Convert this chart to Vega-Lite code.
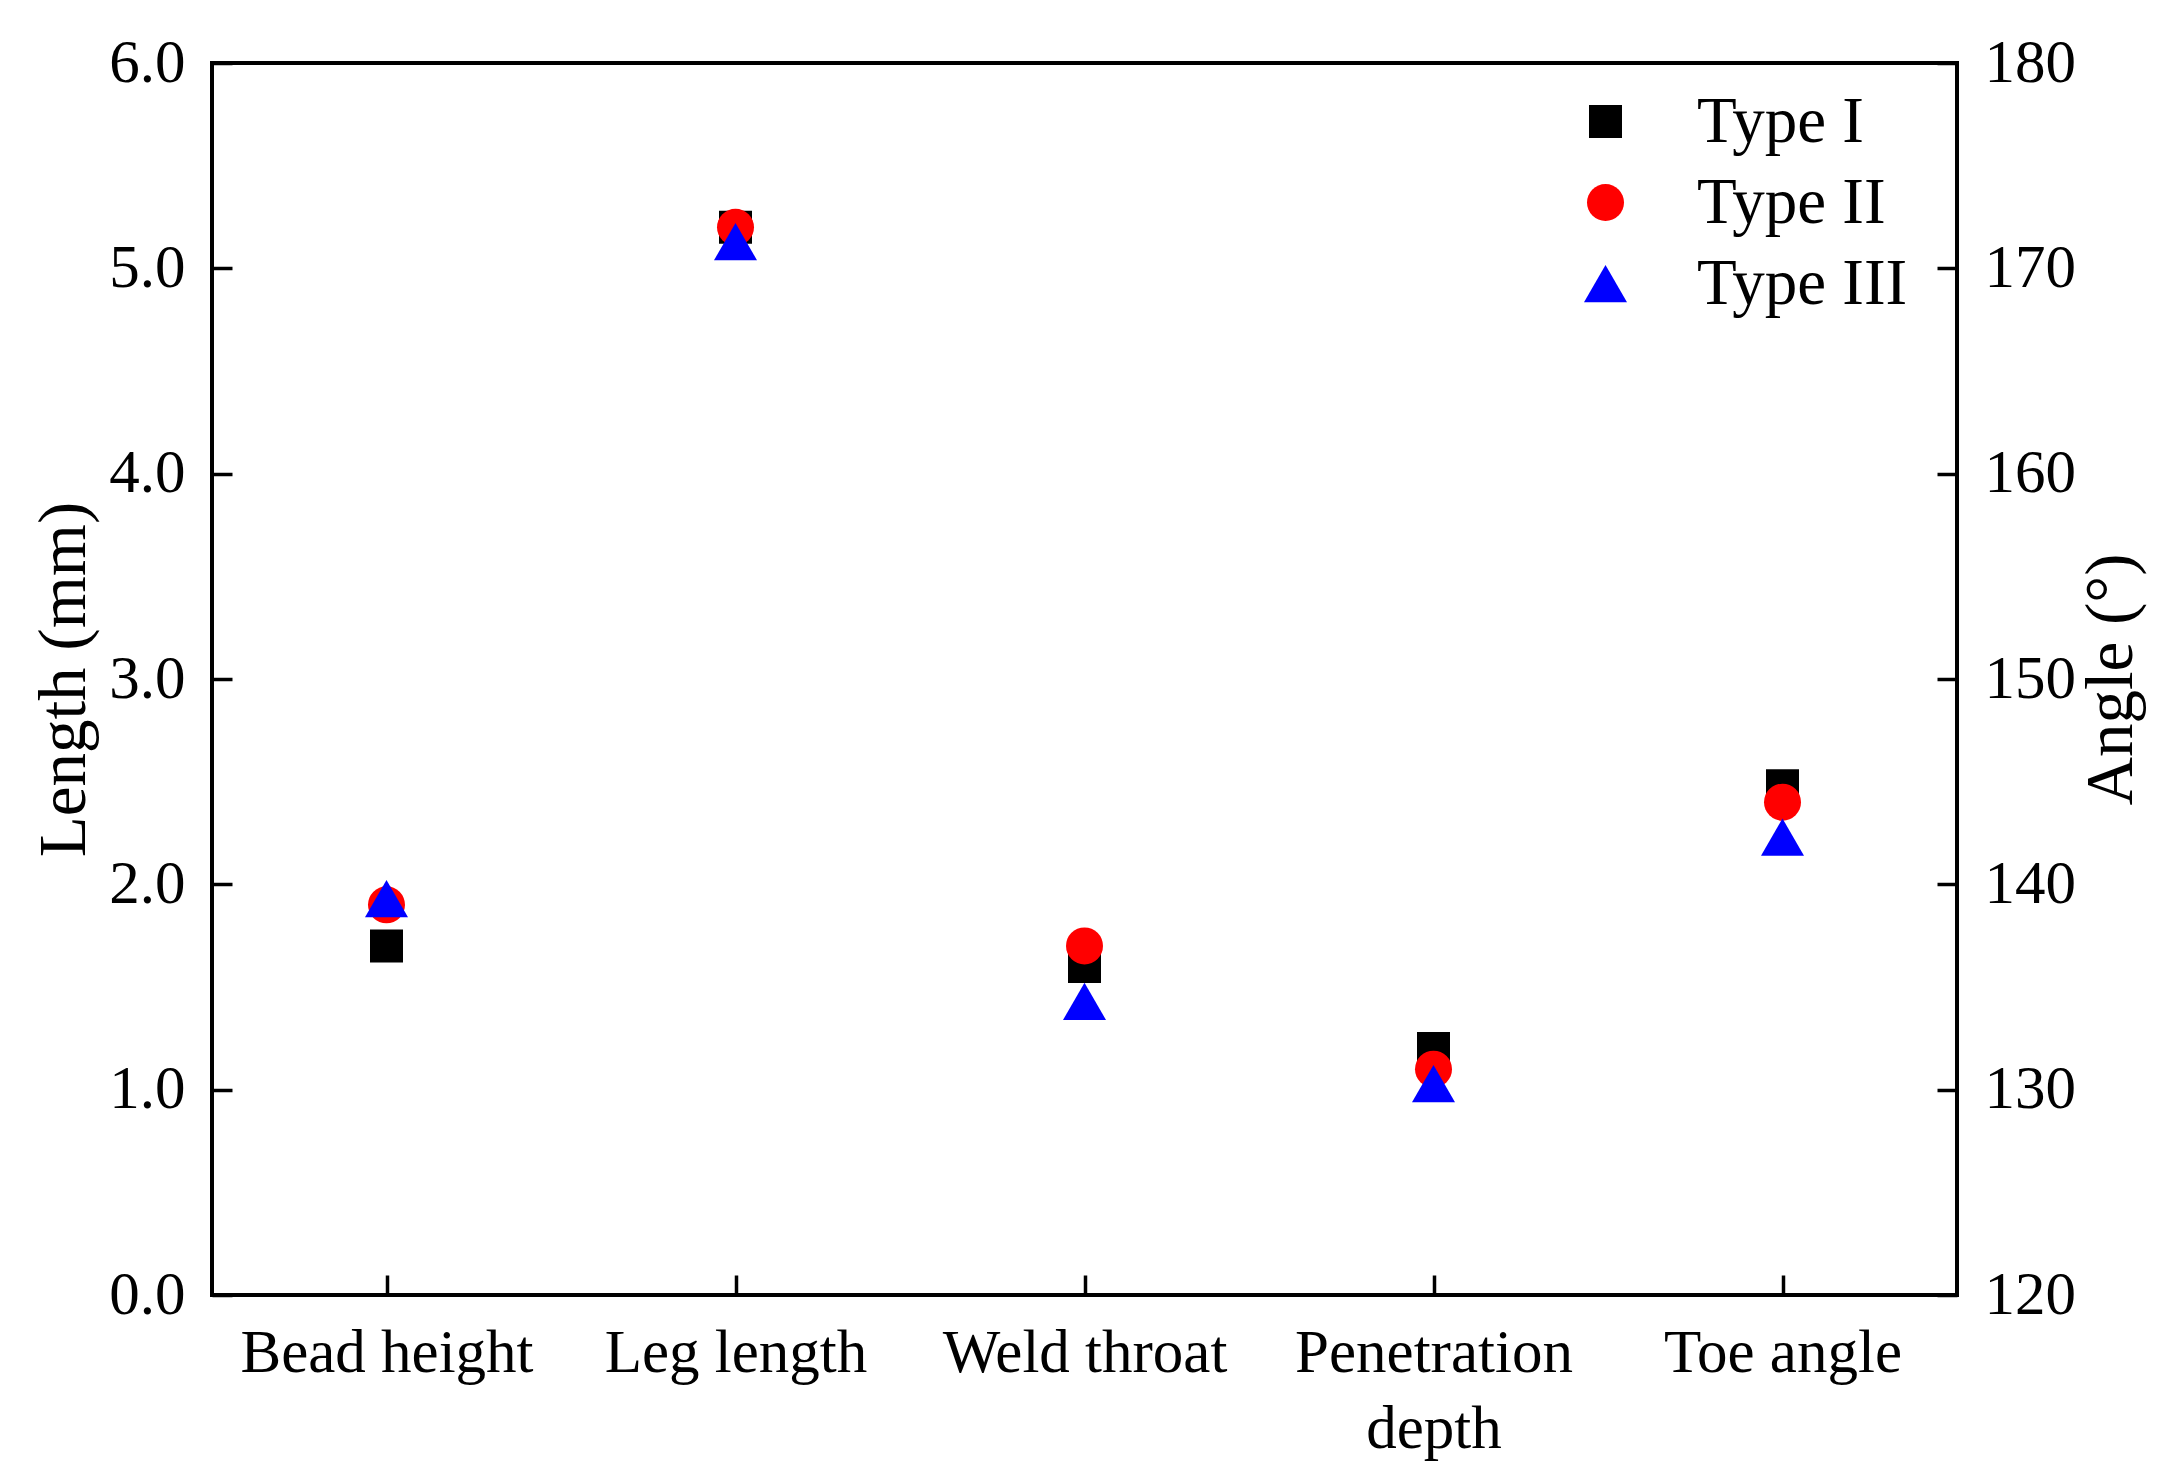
{
  "$schema": "https://vega.github.io/schema/vega-lite/v6.json",
  "width": 1745,
  "height": 1232,
  "autosize": "none",
  "padding": {"left": 212, "top": 63, "right": 216, "bottom": 188},
  "background": "white",
  "config": {
    "font": "Liberation Serif",
    "view": {"stroke": "black", "strokeWidth": 4},
    "axis": {
      "grid": false,
      "domain": false,
      "ticks": true,
      "tickColor": "black",
      "tickWidth": 3.5,
      "tickSize": -20,
      "labelFont": "Liberation Serif",
      "labelFontSize": 61,
      "labelColor": "black",
      "labelLimit": 0,
      "titleFont": "Liberation Serif",
      "titleFontSize": 67,
      "titleFontWeight": "normal",
      "titleColor": "black"
    },
    "legend": {
      "orient": "none",
      "legendX": 1361,
      "legendY": 26,
      "padding": 0,
      "labelFont": "Liberation Serif",
      "labelFontSize": 65,
      "labelColor": "black",
      "labelLimit": 0,
      "labelOffset": 59,
      "rowPadding": 15,
      "symbolStrokeWidth": 0,
      "symbolOpacity": 1
    }
  },
  "data": {
    "values": [
      {"parameter": "Bead height", "type": "Type I", "unit": "mm", "value": 1.70},
      {"parameter": "Bead height", "type": "Type II", "unit": "mm", "value": 1.90},
      {"parameter": "Bead height", "type": "Type III", "unit": "mm", "value": 1.93},
      {"parameter": "Leg length", "type": "Type I", "unit": "mm", "value": 5.20},
      {"parameter": "Leg length", "type": "Type II", "unit": "mm", "value": 5.20},
      {"parameter": "Leg length", "type": "Type III", "unit": "mm", "value": 5.13},
      {"parameter": "Weld throat", "type": "Type I", "unit": "mm", "value": 1.60},
      {"parameter": "Weld throat", "type": "Type II", "unit": "mm", "value": 1.70},
      {"parameter": "Weld throat", "type": "Type III", "unit": "mm", "value": 1.43},
      {"parameter": "Penetration depth", "type": "Type I", "unit": "mm", "value": 1.20},
      {"parameter": "Penetration depth", "type": "Type II", "unit": "mm", "value": 1.10},
      {"parameter": "Penetration depth", "type": "Type III", "unit": "mm", "value": 1.03},
      {"parameter": "Toe angle", "type": "Type I", "unit": "deg", "value": 144.8},
      {"parameter": "Toe angle", "type": "Type II", "unit": "deg", "value": 144.0},
      {"parameter": "Toe angle", "type": "Type III", "unit": "deg", "value": 142.3}
    ]
  },
  "layer": [
    {
      "transform": [{"filter": "datum.unit == 'mm'"}],
      "mark": {"type": "point", "filled": true, "opacity": 1, "strokeWidth": 0},
      "encoding": {
        "x": {
          "field": "parameter",
          "type": "nominal",
          "scale": {"domain": ["Bead height", "Leg length", "Weld throat", "Penetration depth", "Toe angle"]},
          "axis": {
            "title": null,
            "labelAngle": 0,
            "labelPadding": 48,
            "labelLineHeight": 76,
            "labelExpr": "datum.value == 'Penetration depth' ? ['Penetration', 'depth'] : datum.label"
          }
        },
        "y": {
          "field": "value",
          "type": "quantitative",
          "scale": {"domain": [0, 6], "nice": false, "zero": false},
          "axis": {
            "orient": "left",
            "title": "Length (mm)",
            "values": [0, 1, 2, 3, 4, 5, 6],
            "format": ".1f",
            "labelPadding": 47,
            "titlePadding": 10
          }
        },
        "shape": {
          "field": "type",
          "type": "nominal",
          "scale": {"domain": ["Type I", "Type II", "Type III"], "range": ["square", "circle", "triangle-up"]},
          "legend": {"title": null}
        },
        "color": {
          "field": "type",
          "type": "nominal",
          "scale": {"domain": ["Type I", "Type II", "Type III"], "range": ["#000000", "#ff0000", "#0000ff"]},
          "legend": {"title": null}
        },
        "size": {
          "field": "type",
          "type": "nominal",
          "scale": {"type": "ordinal", "domain": ["Type I", "Type II", "Type III"], "range": [1089, 1369, 1850]},
          "legend": {"title": null}
        }
      }
    },
    {
      "transform": [{"filter": "datum.unit == 'deg'"}],
      "mark": {"type": "point", "filled": true, "opacity": 1, "strokeWidth": 0},
      "encoding": {
        "x": {
          "field": "parameter",
          "type": "nominal",
          "scale": {"domain": ["Bead height", "Leg length", "Weld throat", "Penetration depth", "Toe angle"]},
          "axis": {
            "title": null,
            "labelAngle": 0,
            "labelPadding": 48,
            "labelLineHeight": 76,
            "labelExpr": "datum.value == 'Penetration depth' ? ['Penetration', 'depth'] : datum.label"
          }
        },
        "y": {
          "field": "value",
          "type": "quantitative",
          "scale": {"domain": [120, 180], "nice": false, "zero": false},
          "axis": {
            "orient": "right",
            "title": "Angle (°)",
            "titleAngle": -90,
            "values": [120, 130, 140, 150, 160, 170, 180],
            "format": "d",
            "labelPadding": 47,
            "titlePadding": 70
          }
        },
        "shape": {
          "field": "type",
          "type": "nominal",
          "scale": {"domain": ["Type I", "Type II", "Type III"], "range": ["square", "circle", "triangle-up"]},
          "legend": {"title": null}
        },
        "color": {
          "field": "type",
          "type": "nominal",
          "scale": {"domain": ["Type I", "Type II", "Type III"], "range": ["#000000", "#ff0000", "#0000ff"]},
          "legend": {"title": null}
        },
        "size": {
          "field": "type",
          "type": "nominal",
          "scale": {"type": "ordinal", "domain": ["Type I", "Type II", "Type III"], "range": [1089, 1369, 1850]},
          "legend": {"title": null}
        }
      }
    }
  ],
  "resolve": {"scale": {"y": "independent"}}
}
